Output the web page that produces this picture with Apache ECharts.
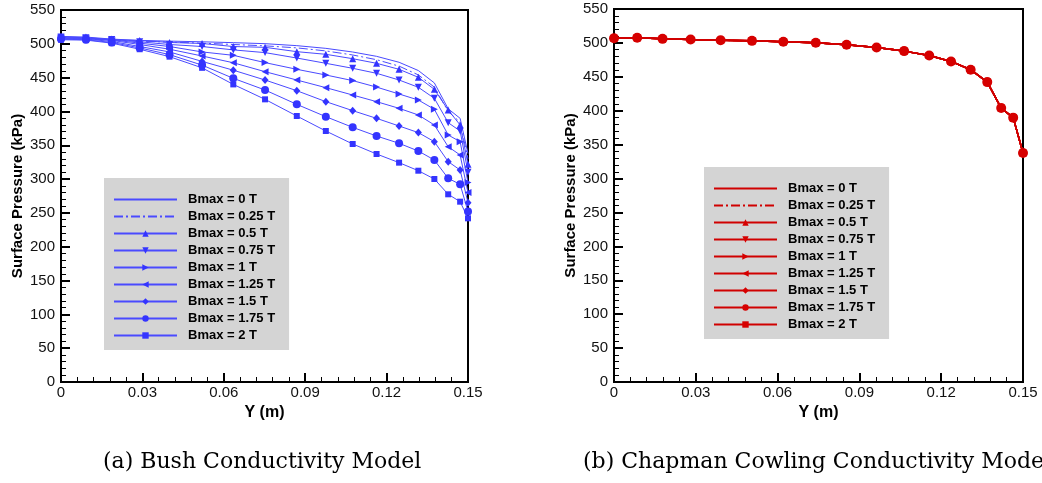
<!DOCTYPE html>
<html><head><meta charset="utf-8">
<script src="https://cdn.jsdelivr.net/npm/echarts@6/dist/echarts.min.js"></script>
<style>html,body{margin:0;padding:0;background:#fff}#c{width:1042px;height:483px}</style>
</head><body><div id="c"></div>
<script>
// ---------------- DATA ----------------
const seriesNames = ['Bmax = 0 T','Bmax = 0.25 T','Bmax = 0.5 T','Bmax = 0.75 T','Bmax = 1 T','Bmax = 1.25 T','Bmax = 1.5 T','Bmax = 1.75 T','Bmax = 2 T'];
const xTickLabels = ['0','0.03','0.06','0.09','0.12','0.15'];
const yTickLabels = ['0','50','100','150','200','250','300','350','400','450','500','550'];

// (a) Bush conductivity model: Y (m) positions of the plotted points
const bushY = [0, 0.0092, 0.0187, 0.029, 0.040, 0.052, 0.0635, 0.0752, 0.0869, 0.0976, 0.1075, 0.1163, 0.1246, 0.1317, 0.1376, 0.1427, 0.1471, 0.15];
const bushB0   = [507, 507.6, 506, 505, 504, 503, 501.7, 500.2, 497.3, 493.3, 487.9, 481.5, 472.7, 460.5, 442.2, 403.9, 389.8, 337.7];
const bushB025 = [507, 507, 505.5, 504, 502.5, 501, 499, 497, 494, 489.5, 483.5, 476.5, 467, 454, 436, 400, 384, 330];
const bushB05  = [511, 510, 507, 505, 502, 500.5, 496, 494.8, 488.4, 484.5, 478, 471.2, 462.3, 450.5, 432.7, 402, 380, 322];
const bushB075 = [510, 509, 506.5, 503, 499, 496, 491, 487, 479, 471.2, 463.8, 456.4, 446.5, 435.7, 419.4, 383.4, 371.1, 310];
const bushB1   = [509, 508.5, 506, 501, 496, 488, 483, 472.2, 462.3, 453.9, 445.6, 436, 425.8, 416.9, 403.2, 365.2, 355.3, 295];
const bushB125 = [509, 508, 505, 499, 492, 482, 472, 458.8, 446.5, 435.2, 424.3, 414.5, 404.6, 394.8, 380, 347.9, 335.6, 280];
const bushB15  = [508, 507, 503.5, 496, 488, 474, 461, 446.5, 430.7, 414.5, 401.2, 389.8, 378.5, 368.7, 355.3, 325.8, 313.4, 265];
const bushB175 = [507, 506, 502, 494, 484, 468.5, 449, 431.7, 410.5, 392.3, 376.5, 363.7, 352.9, 341.5, 328.2, 301.1, 292.2, 252];
const bushB2   = [506, 505.5, 501, 492, 481, 464.5, 440, 417.9, 393.3, 371.1, 351.9, 337.1, 324.3, 312.4, 300.1, 277.5, 266.6, 242];

// (b) Chapman Cowling conductivity model (all Bmax curves coincide)
const chapY = [0, 0.0085, 0.0178, 0.0281, 0.0391, 0.0506, 0.0621, 0.074, 0.0853, 0.0963, 0.1064, 0.1156, 0.1236, 0.1308, 0.1369, 0.142, 0.1464, 0.15];
const chapP = [507, 507.6, 506, 505, 504, 503, 501.7, 500.2, 497.3, 493.3, 487.9, 481.5, 472.7, 460.5, 442.2, 403.9, 389.8, 337.7];

const bushSeries = [bushB0, bushB025, bushB05, bushB075, bushB1, bushB125, bushB15, bushB175, bushB2];
const chapSeries = [chapP, chapP, chapP, chapP, chapP, chapP, chapP, chapP, chapP];

// ---------------- STYLE ----------------
const markers = [
  {symbol:'none'}, {symbol:'none', dash:true},
  {symbol:'triangle', size:7, rot:0},
  {symbol:'triangle', size:7, rot:180},
  {symbol:'triangle', size:7, rot:-90},
  {symbol:'triangle', size:7, rot:90},
  {symbol:'diamond', size:[7,8], rot:0},
  {symbol:'circle', size:8, rot:0},
  {symbol:'rect', size:6, rot:0}
];
const blue = '#3434ff', red = '#d60000';

function pairs(xs, ys){ return xs.map((x,i)=>[x, ys[i]]); }

const series = [];
bushSeries.forEach((ys, i) => {
  const m = markers[i];
  series.push({
    type:'line', name:'a:'+seriesNames[i], xAxisIndex:0, yAxisIndex:0,
    data: pairs(bushY, ys), symbol: m.symbol, symbolSize: m.size || 0, symbolRotate: m.rot || 0,
    showSymbol: m.symbol !== 'none', animation:false,
    itemStyle:{color: blue}, lineStyle:{color:'#4a4aff', width:1, type: m.dash ? [9,3,2,3] : 'solid'}
  });
});
chapSeries.forEach((ys, i) => {
  const m = markers[i];
  let size = m.size || 0;
  if (m.symbol === 'circle') size = 10;
  series.push({
    type:'line', name:'b:'+seriesNames[i], xAxisIndex:1, yAxisIndex:1,
    data: pairs(chapY, ys), symbol: m.symbol, symbolSize: size, symbolRotate: m.rot || 0,
    showSymbol: m.symbol !== 'none', animation:false,
    itemStyle:{color: red}, lineStyle:{color:'#d00000', width:1.5, type: m.dash ? [9,3,2,3] : 'solid'}
  });
});

const tickFont = {fontFamily:'Liberation Sans', fontSize:15, color:'#111'};
function xAxisCfg(gi){
  return {type:'value', gridIndex:gi, min:0, max:0.15, interval:0.03,
    name:'Y (m)', nameLocation:'middle', nameGap:15,
    nameTextStyle:{fontFamily:'Liberation Sans', fontWeight:'bold', fontSize:16, color:'#000'},
    axisLine:{show:true, onZero:false, lineStyle:{color:'#000', width:2}},
    axisTick:{show:true, inside:true, length:9, lineStyle:{color:'#000', width:2}},
    minorTick:{show:true, splitNumber:5, length:5, lineStyle:{color:'#000', width:1}},
    splitLine:{show:false},
    axisLabel:{...tickFont, margin:3, formatter:(v)=>xTickLabels[Math.round(v/0.03)]}
  };
}
function yAxisCfg(gi){
  return {type:'value', gridIndex:gi, min:0, max:550, interval:50,
    name:'Surface Pressure (kPa)', nameLocation:'middle', nameGap:36,
    nameTextStyle:{fontFamily:'Liberation Sans', fontWeight:'bold', fontSize:15, color:'#000'},
    axisLine:{show:true, onZero:false, lineStyle:{color:'#000', width:2}},
    axisTick:{show:true, inside:true, length:9, lineStyle:{color:'#000', width:2}},
    minorTick:{show:true, splitNumber:5, length:5, lineStyle:{color:'#000', width:1}},
    splitLine:{show:false},
    axisLabel:{...tickFont, margin:6, formatter:(v)=>yTickLabels[Math.round(v/50)]}
  };
}
function legendCfg(prefix, left, top){
  return {show:true, orient:'vertical', left:left, top:top, selectedMode:false,
    data: seriesNames.map((n,i)=> i < 2 ? {name: prefix+n, itemStyle:{color:'rgba(0,0,0,0)', borderWidth:0}} : {name: prefix+n}),
    formatter:(n)=>n.slice(2),
    backgroundColor:'#d4d4d4', borderWidth:0, padding:[15,14,8,9],
    itemWidth:63, itemHeight:8, itemGap:4,
    textStyle:{fontFamily:'Liberation Sans', fontWeight:'bold', fontSize:13, color:'#000', padding:[0,0,0,6]}
  };
}

const chart = echarts.init(document.getElementById('c'), null, {renderer:'canvas'});
chart.setOption({
  backgroundColor:'#fff',
  animation:false,
  grid:[
    {left:61, right:574, top:10, bottom:101, show:true, borderColor:'#000', borderWidth:2, backgroundColor:'transparent'},
    {left:614, right:19, top:9, bottom:101, show:true, borderColor:'#000', borderWidth:2, backgroundColor:'transparent'}
  ],
  xAxis:[xAxisCfg(0), xAxisCfg(1)],
  yAxis:[yAxisCfg(0), yAxisCfg(1)],
  legend:[legendCfg('a:', 104, 178), legendCfg('b:', 704, 167)],
  series: series,
  graphic:[
    {type:'text', left:103, top:451, style:{text:'(a) Bush Conductivity Model', font:'22px "DejaVu Serif"', fill:'#000'}},
    {type:'text', left:583, top:451, style:{text:'(b) Chapman Cowling Conductivity Model', font:'22px "DejaVu Serif"', fill:'#000'}}
  ]
});
</script></body></html>
